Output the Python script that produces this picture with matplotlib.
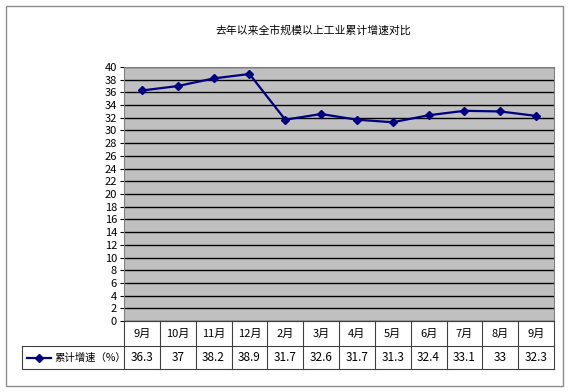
import matplotlib.pyplot as plt
import numpy as np
from matplotlib.patches import Rectangle

plt.rcParams['font.family'] = ['Noto Sans CJK SC', 'DejaVu Sans']

# datos
meses = ["9月", "10月", "11月", "12月", "2月", "3月", "4月", "5月", "6月", "7月", "8月", "9月"]
valores = [36.3, 37, 38.2, 38.9, 31.7, 32.6, 31.7, 31.3, 32.4, 33.1, 33, 32.3]
etiquetas = ["36.3", "37", "38.2", "38.9", "31.7", "32.6", "31.7", "31.3", "32.4", "33.1", "33", "32.3"]
serie = "累计增速（%）"
titulo = "去年以来全市规模以上工业累计增速对比"

W, H = 568, 392
fig = plt.figure(figsize=(W / 100, H / 100), dpi=100)
fig.patch.set_facecolor("white")

# marco exterior
fig.patches.append(Rectangle((6 / W, 6 / H), 557 / W, 380 / H, transform=fig.transFigure,
                             fill=False, edgecolor="#8c8c8c", lw=1))

fig.text(313 / W, 1 - 30 / H, titulo, ha="center", va="center", fontsize=7.8)

# area del grafico
x0, x1, yt, yb = 124, 554, 67, 321
ax = fig.add_axes([x0 / W, 1 - yb / H, (x1 - x0) / W, (yb - yt) / H])
ax.set_facecolor("#c0c0c0")
n = len(meses)
x = np.arange(n)
ax.set_xlim(-0.5, n - 0.5)
ax.set_ylim(0, 40)
ax.set_yticks(np.arange(0, 41, 2))
ax.set_yticklabels([str(v) for v in range(0, 41, 2)], fontsize=8)
ax.tick_params(axis="y", length=3, width=0.8, pad=2)
ax.set_xticks([])
ax.yaxis.grid(True, color="black", lw=1.0)
ax.set_axisbelow(True)
for s in ax.spines.values():
    s.set_color("#808080")
    s.set_linewidth(0.8)
ax.plot(x, valores, color="#000080", lw=1.6, marker="D", markersize=4.5,
        markerfacecolor="#000080", markeredgecolor="#000080")

# tabla de datos
tab = fig.add_axes([0, 0, 1, 1])
tab.set_xlim(0, W)
tab.set_ylim(H, 0)
tab.axis("off")
r0, r1, r2 = 321, 346, 369
lx = 22
cw = (x1 - x0) / n
lc = "#404040"
tab.plot([x0, x1], [r0, r0], color=lc, lw=0.8)
tab.plot([lx, x1], [r1, r1], color=lc, lw=0.8)
tab.plot([lx, x1], [r2, r2], color=lc, lw=0.8)
tab.plot([lx, lx], [r1, r2], color=lc, lw=0.8)
for i in range(n + 1):
    tab.plot([x0 + i * cw] * 2, [r0, r2], color=lc, lw=0.8)
for i, (m, e) in enumerate(zip(meses, etiquetas)):
    cx = x0 + (i + 0.5) * cw
    tab.text(cx, (r0 + r1) / 2, m, ha="center", va="center", fontsize=8)
    tab.text(cx, (r1 + r2) / 2, e, ha="center", va="center", fontsize=8.5)
ym = (r1 + r2) / 2
tab.plot([27, 51], [ym, ym], color="#000080", lw=1.6)
tab.plot([39], [ym], marker="D", markersize=4.5, color="#000080")
tab.text(54, ym, serie, ha="left", va="center", fontsize=7.5)

plt.savefig("out.png", dpi=100)
